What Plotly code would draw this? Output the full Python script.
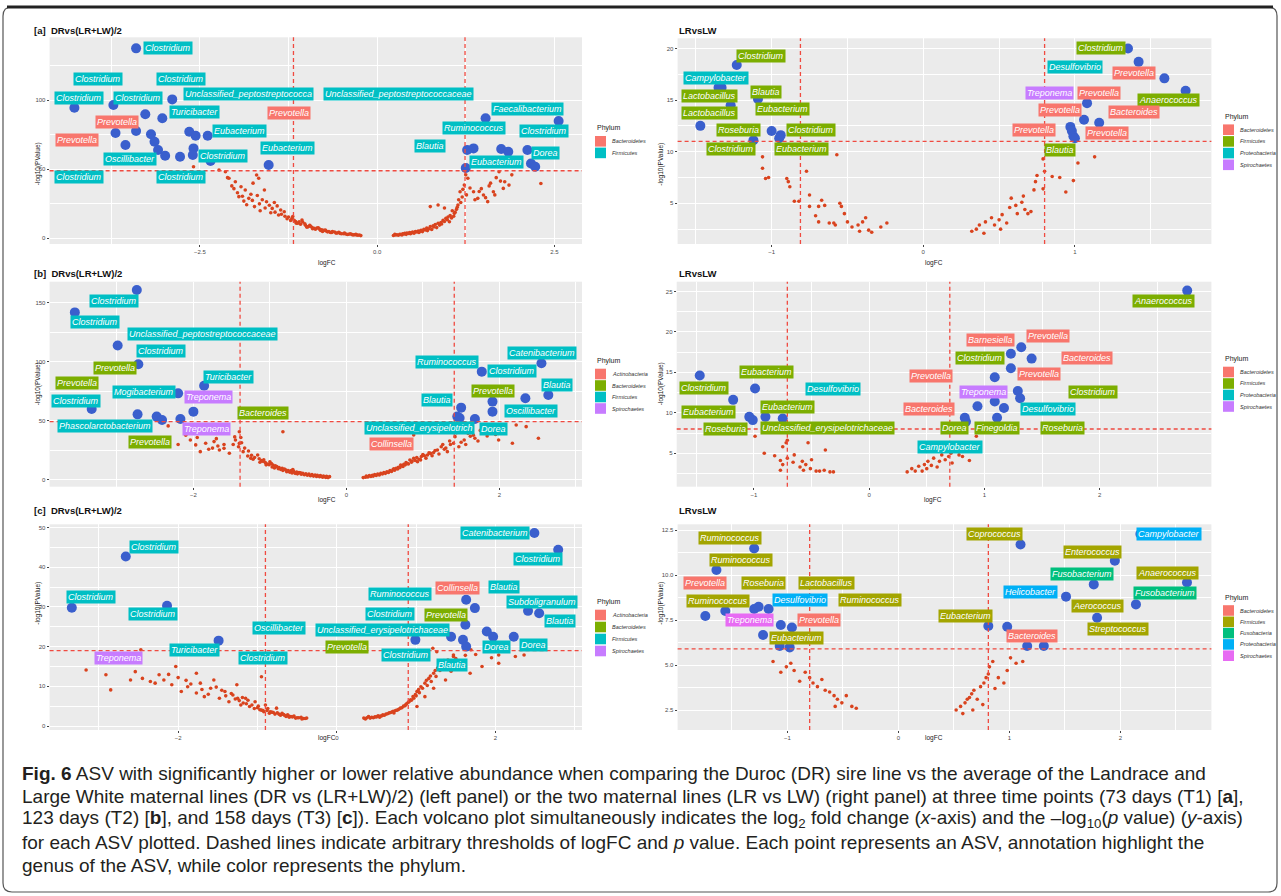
import plotly.graph_objects as go

W, H = 1281, 896
FONT = "Liberation Sans, Arial, sans-serif"
CAP_FONT = "Liberation Sans Narrow, Arial Narrow, Liberation Sans, sans-serif"

# ----------------------------------------------------------------- data ----
# [a] DR vs (LR+LW)/2  -- non significant ASVs
a_left_ns_x = [-2.59,-2.23,-2.14,-2.09,-2.00,-1.92,-1.86,-1.95,-1.81,-1.70,-1.67,-1.73,-1.59,-1.56,-1.48,-1.39,-1.31,-1.20,-1.14,-1.06,-0.97,-0.89,-0.81,-0.72,-0.64,-0.56,-0.47,-0.36,-0.25,
               -1.84,-2.05,-1.97,-1.78,-1.62,-1.52,-1.44,-1.35,-1.25,-1.17,-1.10,-1.02,-0.95,-0.92,-0.85,-0.78,-0.75,-0.68,-0.60,-0.52,-0.44,-0.40,-0.32,-0.29,-1.45,-1.65,-1.88,-1.75,-2.45,
               0.25,0.42,0.58,0.75,0.86,0.97,1.09,1.14,1.17,1.23,1.28,1.36,1.42,1.50,1.56,1.64,1.72,1.78,1.86,2.31,0.86,0.75,
               0.28,0.32,0.36,0.39,0.46,0.50,0.54,0.62,0.66,0.70,0.79,0.82,0.90,0.93,1.00,1.03,1.06,1.12,1.15,1.20,1.25,1.47,1.60,1.68,1.80,1.90,0.95]
a_left_ns_y = [51.9,49.5,48.3,43.5,41.0,37.4,35.0,30.2,29.0,45.9,43.5,23.0,35.0,26.5,21.7,16.9,19.3,14.5,10.9,13.3,8.5,7.2,6.8,5.3,4.3,3.9,3.4,2.9,2.4,
               24.3,38.0,33.0,32.0,28.0,24.0,19.0,17.5,15.5,13.0,12.0,10.5,9.5,8.0,7.5,6.2,5.8,5.0,4.6,3.6,3.2,3.0,2.6,2.5,26.0,20.0,27.0,40.0,47.0,
               2.9,3.9,5.3,8.5,10.9,14.5,18.1,24.2,33.8,38.6,43.5,33.8,29.0,31.4,26.6,33.8,48.3,36.2,38.6,39.8,24.2,23.0,
               2.6,3.0,3.3,3.6,4.2,4.5,5.0,5.8,6.5,7.5,9.0,10.0,11.5,13.0,15.5,16.5,20.0,21.0,28.0,30.0,46.0,36.0,40.0,44.0,41.0,46.0,22.0]
a_left_ns_more_x = [-1.30,-1.27,-1.22,-1.19,-1.15,-1.12,-1.08,-1.05,-1.01,-0.99,-0.94,-0.91,-0.87,-0.83,-0.80,-0.77,-0.73,-0.70,-0.66,-0.63,
                    -0.58,-0.54,-0.50,-0.46,-0.42,-0.38,-0.34,-0.30,-0.27,-0.23,-1.36,-1.41,-1.50,-1.58,-1.66,-1.69,-1.76,-1.90,-2.02,-2.11,
                    0.23,0.26,0.30,0.33,0.35,0.38,0.41,0.44,0.47,0.49,0.52,0.56,0.59,0.61,0.64,0.68,0.71,0.73,0.77,0.80,
                    0.84,0.88,0.91,0.95,0.99,1.02,1.05,1.08,1.10,1.13,1.18,1.21,1.26,1.31,1.38,1.44,1.53,1.58,1.66,1.74]
a_left_ns_more_y = [16.0,14.2,13.0,15.8,12.2,11.0,10.2,11.8,9.4,8.1,8.8,7.0,6.6,7.6,5.8,5.0,6.1,4.7,4.2,5.0,
                    3.8,4.4,3.3,3.9,2.8,3.3,2.5,2.9,2.2,2.0,20.5,23.5,18.5,22.0,25.0,31.0,27.5,30.5,36.0,44.0,
                    2.1,2.4,2.2,2.8,2.5,3.2,2.9,3.6,3.4,4.0,3.7,4.6,4.2,5.2,4.9,6.1,5.6,7.0,6.4,8.2,
                    7.8,9.6,10.4,12.2,13.5,12.0,14.8,16.0,19.0,22.5,26.0,35.5,31.5,36.5,28.0,34.0,29.5,38.0,31.5,41.5]
# significant ASVs
a_left_sig_x = [-3.40,-4.27,-3.72,-2.89,-3.27,-3.03,-3.69,-3.55,-3.40,-3.19,-3.14,-3.09,-2.99,-2.78,-2.65,-2.56,-2.39,-2.59,-2.60,-2.35,-1.53,
                1.53,2.56,1.27,1.36,1.75,1.85,2.12,2.17,2.23,1.25]
a_left_sig_y = [137.7,94.6,96.6,100.7,89.9,87.0,76.3,67.6,77.8,75.4,70.0,64.0,59.9,59.1,77.2,74.4,74.4,65.2,60.4,56.0,53.1,
                87.0,85.0,64.0,65.2,64.7,62.8,64.0,54.3,51.9,51.0]
a_left_lab_text = ["Clostridium","Clostridium","Clostridium","Clostridium","Clostridium","Unclassified_peptostreptococca",
                   "Unclassified_peptostreptococcaceae","Turicibacter","Prevotella","Prevotella","Faecalibacterium","Eubacterium",
                   "Ruminococcus","Clostridium","Prevotella","Blautia","Eubacterium","Clostridium","Dorea","Oscillibacter",
                   "Eubacterium","Clostridium","Clostridium"]
a_left_lab_phylum = ["Firmicutes"]*8 + ["Bacteroidetes","Bacteroidetes"] + ["Firmicutes"]*4 + ["Bacteroidetes"] + ["Firmicutes"]*8
a_left_lab_x = [-2.95,-3.94,-2.76,-4.21,-3.37,-1.81,0.30,-2.58,-3.67,-1.25,2.12,-1.94,1.37,2.36,-4.23,0.75,-1.26,-2.17,2.37,-3.48,1.69,-4.21,-2.76]
a_left_lab_y = [137.9,115.4,115.4,101.7,101.9,104.5,104.5,91.5,84.3,90.8,93.7,77.8,80.0,77.8,71.2,66.9,65.4,59.9,62.0,57.2,55.5,44.4,44.4]
a_left_phyla = ["Bacteroidetes","Firmicutes"]

# [a] LR vs LW
a_right_ns_x = [-1.06,-1.06,-1.04,-1.02,-0.90,-0.89,-0.88,-0.85,-0.82,-0.77,-0.75,-0.75,-0.71,-0.69,-0.67,-0.65,-0.69,-0.62,-0.58,-0.55,-0.54,-0.52,-0.50,-0.47,-0.43,-0.42,-0.40,-0.38,-0.36,-0.34,-0.28,-0.24,-0.57,-0.59,
                0.32,0.35,0.37,0.40,0.41,0.45,0.47,0.50,0.51,0.52,0.55,0.57,0.58,0.61,0.62,0.65,0.66,0.67,0.69,0.71,0.73,0.74,0.75,0.79,0.79,0.80,0.85,0.90,0.94,0.99,1.02,1.13]
a_right_ns_y = [9.5,8.4,7.4,7.5,7.4,7.1,6.6,5.2,5.2,8.1,5.8,4.7,3.8,4.7,5.3,4.8,3.2,3.1,2.9,5.0,4.7,4.0,3.2,2.7,2.9,2.3,3.2,3.6,2.4,2.2,2.7,3.1,9.7,3.1,
                2.3,2.5,2.9,2.1,3.2,3.6,2.9,3.4,2.5,3.9,3.1,4.6,5.5,4.8,4.0,5.1,5.7,4.4,4.0,4.2,6.3,7.1,7.7,6.4,9.3,8.1,7.6,7.5,6.1,7.2,8.9,9.5]
a_right_sig_x = [-1.47,-1.23,-1.35,-1.33,-1.27,-1.09,-1.12,-1.00,-0.94,-0.95,1.35,1.42,1.59,1.73,1.08,1.06,1.16,0.97,0.98,0.99,1.00]
a_right_sig_y = [12.5,18.4,16.2,16.2,14.5,15.1,11.1,12.0,11.6,11.3,20.0,18.7,17.1,15.9,14.7,13.1,12.8,12.4,12.0,11.5,11.3]
a_right_lab_text = ["Clostridium","Campylobacter","Blautia","Lactobacillus","Eubacterium","Lactobacillus","Roseburia","Clostridium",
                    "Clostridium","Eubacterium","Clostridium","Desulfovibrio","Prevotella","Treponema","Prevotella","Anaerococcus",
                    "Prevotella","Bacteroides","Prevotella","Prevotella","Blautia"]
a_right_lab_phylum = ["Firmicutes","Proteobacteria"] + ["Firmicutes"]*9 + ["Proteobacteria","Bacteroidetes","Spirochaetes","Bacteroidetes",
                      "Firmicutes","Bacteroidetes","Bacteroidetes","Bacteroidetes","Bacteroidetes","Firmicutes"]
a_right_lab_x = [-1.07,-1.37,-1.04,-1.41,-0.93,-1.41,-1.22,-0.74,-1.27,-0.80,1.17,1.00,1.39,0.83,1.16,1.62,0.90,1.39,0.73,1.21,0.90]
a_right_lab_y = [19.29,17.16,15.81,15.39,14.13,13.72,12.10,12.10,10.23,10.23,20.01,18.23,17.59,15.65,15.71,15.0,14.04,13.81,12.10,11.78,10.16]
a_right_phyla = ["Bacteroidetes","Firmicutes","Proteobacteria","Spirochaetes"]

# [b] DR vs (LR+LW)/2
b_left_ns_x = [-2.04,-1.97,-1.91,-1.84,-1.73,-1.68,-1.66,-1.60,-1.53,-1.45,-1.41,-1.37,-1.35,-1.29,-1.22,-1.16,-1.11,-1.06,-1.00,-0.96,-0.91,-0.84,-0.79,-0.72,-0.65,-0.57,-0.49,-0.41,-0.34,-0.26,-0.83,-1.40,-2.33,
               -1.25,-1.13,-1.03,-0.93,-0.88,-0.81,-0.76,-0.69,-0.62,-0.60,-0.53,-0.45,-0.38,-0.30,-0.22,-0.70,-0.98,-1.08,-1.38,-1.48,-1.75,-2.10,
               0.26,0.34,0.41,0.49,0.57,0.65,0.71,0.78,0.83,0.88,0.93,0.98,1.06,1.14,1.19,1.24,1.32,1.40,1.42,1.47,1.54,1.59,1.64,1.68,1.84,1.90,1.99,2.07,2.17,2.22,2.35,2.51,0.88,
               0.30,0.37,0.45,0.53,0.61,0.68,0.75,0.80,0.86,0.95,1.02,1.10,1.28,1.36,1.50,1.62,0.62,0.73,1.75,2.00]
b_left_ns_y = [33.9,29.7,24.0,31.1,32.5,28.8,25.4,26.8,22.6,33.9,28.2,31.6,24.0,20.3,17.5,21.2,16.4,14.7,15.5,12.7,11.3,9.9,8.5,7.9,6.8,5.6,5.1,4.2,3.7,3.1,40.9,40.9,45.8,
               18.5,15.0,13.5,12.0,10.5,9.2,8.0,7.3,6.3,6.0,5.3,4.6,4.0,3.4,2.8,8.8,14.0,17.0,36.0,30.0,27.0,38.0,
               3.4,4.0,5.1,6.2,7.9,9.9,12.7,14.7,16.9,18.4,15.5,19.8,21.2,23.2,25.4,28.2,24.0,31.1,36.7,28.2,33.9,39.5,40.9,35.3,37.3,43.8,33.9,43.8,31.1,46.6,45.2,35.3,38.1,
               3.7,4.5,5.6,7.0,8.8,10.8,13.2,14.0,16.0,17.5,20.5,22.5,26.0,30.0,32.0,37.0,9.5,12.0,42.0,44.5]
b_left_ns_more_x = [-1.46,-1.40,-1.33,-1.28,-1.24,-1.20,-1.14,-1.09,-1.05,-1.01,-0.97,-0.94,-0.89,-0.86,-0.83,-0.78,-0.74,-0.71,-0.67,-0.64,
                    -0.59,-0.55,-0.51,-0.47,-0.43,-0.39,-0.35,-0.31,-0.27,-0.24,-1.60,-1.70,-1.80,-2.20,-1.95,
                    0.22,0.25,0.28,0.32,0.35,0.39,0.43,0.47,0.51,0.55,0.59,0.63,0.67,0.70,0.74,0.77,0.81,0.85,0.90,0.92,
                    0.97,1.00,1.04,1.08,1.12,1.16,1.21,1.26,1.30,1.35,1.44,1.56,1.66,1.72,1.95]
b_left_ns_more_y = [36.5,31.0,27.0,24.5,21.0,19.0,18.0,15.8,12.8,13.0,11.0,10.2,9.5,9.0,8.0,7.0,6.5,6.0,5.6,5.2,
                    4.8,4.4,4.0,3.6,3.3,3.0,2.7,2.4,2.2,2.0,30.0,35.0,26.0,30.0,36.0,
                    2.0,2.3,2.6,3.0,3.3,3.8,4.3,5.0,5.6,6.4,7.2,8.2,9.4,10.5,11.5,12.8,13.5,15.0,16.5,19.0,
                    17.0,21.5,18.5,23.0,20.5,25.0,22.0,30.0,27.0,33.0,40.0,30.0,38.0,33.0,38.5]
b_left_sig_x = [-2.74,-3.55,-2.99,-2.72,-2.20,-1.86,-2.00,-3.33,-2.73,-2.48,-2.41,-2.17,1.50,1.45,1.48,1.68,1.77,1.91,1.91,2.34,2.55,2.64]
b_left_sig_y = [161,142,114,98,73.4,79.9,57.9,60.2,55.6,53.7,50.8,51.7,61.3,53.7,52.5,51.7,91.8,66.4,57.9,69.2,98.9,72]
b_left_lab_text = ["Clostridium","Clostridium","Unclassified_peptostreptococcaceae","Clostridium","Prevotella","Prevotella","Turicibacter",
                   "Mogibacterium","Treponema","Clostridium","Bacteroides","Phascolarctobacterium","Treponema","Prevotella",
                   "Ruminococcus","Catenibacterium","Clostridium","Prevotella","Blautia","Blautia","Oscillibacter",
                   "Unclassified_erysipelotrich","Dorea","Collinsella"]
b_left_lab_phylum = ["Firmicutes","Firmicutes","Firmicutes","Firmicutes","Bacteroidetes","Bacteroidetes","Firmicutes","Firmicutes",
                     "Spirochaetes","Firmicutes","Bacteroidetes","Firmicutes","Spirochaetes","Bacteroidetes","Firmicutes","Firmicutes",
                     "Firmicutes","Bacteroidetes","Firmicutes","Firmicutes","Firmicutes","Firmicutes","Firmicutes","Actinobacteria"]
b_left_lab_x = [-3.04,-3.29,-1.88,-2.43,-3.03,-3.52,-1.54,-2.65,-1.80,-3.54,-1.09,-3.16,-1.83,-2.57,1.32,2.56,2.17,1.91,2.75,1.19,2.41,0.95,1.92,0.59]
b_left_lab_y = [151.7,134.2,123.7,109.3,95.2,82.5,87.5,74.3,70.6,66.9,56.5,46.0,43.2,31.9,99.7,107.4,92.4,75.4,80.5,67.5,58.5,44.3,43.2,30.3]
b_left_phyla = ["Actinobacteria","Bacteroidetes","Firmicutes","Spirochaetes"]

# [b] LR vs LW
b_right_ns_x = [-0.99,-0.91,-0.82,-0.77,-0.75,-0.75,-0.72,-0.71,-0.71,-0.66,-0.65,-0.60,-0.58,-0.57,-0.55,-0.53,-0.51,-0.50,-0.46,-0.43,-0.39,-0.38,-0.34,-0.31,-0.77,
                0.33,0.37,0.40,0.43,0.46,0.48,0.50,0.51,0.54,0.56,0.59,0.61,0.63,0.66,0.69,0.71,0.72,0.75,0.78,0.87,0.93,0.81]
b_right_ns_y = [7.1,5.0,4.7,4.1,3.6,5.8,6.3,4.4,6.6,3.9,4.8,3.3,4.0,2.9,3.6,6.3,3.1,4.2,2.8,2.8,2.9,5.4,2.7,2.7,2.9,
                2.7,3.1,2.8,3.4,2.8,3.6,3.1,4.0,3.5,4.4,3.3,4.0,4.8,4.2,4.6,5.0,3.8,5.4,4.8,4.1,7.1,4.6]
b_right_sig_x = [2.76,-1.47,-0.99,-1.18,-1.04,-1.01,-0.90,-0.75,1.32,1.23,1.41,1.23,1.09,1.29,1.31,1.09,0.94,1.17,1.11,0.83,0.84]
b_right_sig_y = [25.1,14.6,13.0,11.6,9.5,9.1,9.5,9.3,18.1,17.3,16.7,15.5,14.4,12.7,11.8,11.4,10.8,10.6,9.4,9.4,8.9]
b_right_lab_text = ["Anaerococcus","Barnesiella","Prevotella","Clostridium","Bacteroides","Prevotella","Prevotella","Eubacterium",
                    "Clostridium","Desulfovibrio","Treponema","Clostridium","Eubacterium","Eubacterium","Bacteroides","Desulfovibrio",
                    "Roseburia","Unclassified_erysipelotrichaceae","Dorea","Finegoldia","Roseburia","Campylobacter"]
b_right_lab_phylum = ["Firmicutes","Bacteroidetes","Bacteroidetes","Firmicutes","Bacteroidetes","Bacteroidetes","Bacteroidetes",
                      "Firmicutes","Firmicutes","Proteobacteria","Spirochaetes","Firmicutes","Firmicutes","Firmicutes","Bacteroidetes",
                      "Proteobacteria","Firmicutes","Firmicutes","Firmicutes","Firmicutes","Firmicutes","Proteobacteria"]
b_right_lab_x = [2.55,1.05,1.55,0.96,1.89,0.54,1.47,-0.89,-1.43,-0.31,0.99,1.94,-1.39,-0.71,0.52,1.55,-1.25,-0.36,0.74,1.11,1.68,0.70]
b_right_lab_y = [23.76,19.02,19.43,16.83,16.83,14.60,14.78,15.02,13.04,12.96,12.55,12.55,10.15,10.77,10.48,10.48,8.01,8.17,8.09,8.09,8.17,5.82]
b_right_phyla = ["Bacteroidetes","Firmicutes","Proteobacteria","Spirochaetes"]

# [c] DR vs (LR+LW)/2
c_left_ns_x = [-3.16,-2.91,-2.85,-2.60,-2.54,-2.29,-2.24,-2.18,-2.08,-2.03,-1.96,-1.88,-1.77,-1.72,-1.67,-1.59,-1.55,-1.48,-1.41,-1.36,-1.31,-1.26,-1.21,-1.15,-1.10,-1.03,-0.97,-0.90,-0.84,-0.76,-0.69,-0.62,-0.54,-0.45,-0.38,-1.77,-0.95,
               -1.00,-0.93,-0.87,-0.80,-0.73,-0.66,-0.58,-0.50,-0.42,-1.12,-1.25,-1.45,-1.62,-2.12,-2.45,-1.90,-1.18,-0.70,-0.61,-2.47,
               0.34,0.44,0.55,0.62,0.70,0.78,0.86,0.91,0.96,1.01,1.06,1.11,1.16,1.22,1.27,1.32,1.40,1.47,1.11,1.01,1.22,1.37,1.68,1.83,2.04,2.25,
               0.38,0.48,0.52,0.58,0.66,0.74,0.82,0.88,0.94,0.99,1.04,1.14,1.19,1.25,1.30,1.44,1.55,1.62,0.72,0.40,1.21,1.26,1.47,1.69,2.04,2.36]
c_left_ns_y = [14.1,12.9,9.1,11.6,13.7,10.8,12.9,11.6,10.4,15.0,8.7,9.9,8.3,10.8,7.4,9.5,11.6,7.0,8.7,6.1,7.8,10.4,5.3,7.0,4.9,6.1,4.1,5.3,3.6,4.5,3.2,2.8,2.5,2.2,2.0,13.3,12.4,
               4.6,3.9,4.4,3.4,3.0,2.7,2.4,2.1,1.9,6.5,7.0,9.0,8.0,13.0,12.0,11.5,5.8,2.9,2.6,19.2,
               2.0,2.2,2.5,3.0,3.6,4.2,5.1,6.1,7.4,8.7,9.9,10.8,12.0,13.3,14.6,15.8,16.6,17.5,7.4,4.9,9.5,11.6,13.3,15.0,15.8,17.5,
               2.1,2.3,2.6,2.8,3.3,3.9,4.6,5.6,6.5,7.9,8.4,10.2,11.2,12.5,14.0,13.8,16.0,17.8,3.3,2.4,19.6,18.7,17.9,19.2,17.9,17.9]
c_left_ns_more_x = [-1.40,-1.33,-1.28,-1.23,-1.19,-1.14,-1.07,-1.04,-0.99,-0.95,-0.92,-0.88,-0.85,-0.82,-0.78,-0.75,-0.71,-0.67,-0.64,-0.60,
                    -0.56,-0.52,-0.48,-0.44,-0.40,-1.52,-1.70,-1.84,-2.00,-2.35,
                    0.36,0.42,0.46,0.50,0.54,0.57,0.60,0.64,0.68,0.71,0.76,0.80,0.84,0.87,0.90,0.93,0.97,1.00,1.03,1.08,
                    1.13,1.18,1.24,1.29,1.35,1.42,1.50,1.58,1.75,1.95]
c_left_ns_more_y = [7.6,8.2,6.8,6.4,7.2,5.6,5.3,4.4,5.0,4.0,3.6,3.9,3.2,3.5,3.0,3.3,2.7,2.9,2.4,2.2,
                    2.3,2.0,2.1,1.8,1.9,9.8,9.2,10.6,12.2,11.2,
                    1.8,2.0,2.1,2.3,2.2,2.6,2.7,3.1,3.4,3.7,4.0,4.5,5.0,5.4,6.0,6.6,7.0,7.6,9.2,9.5,
                    11.5,12.6,14.0,14.8,16.5,15.2,17.0,16.2,18.0,17.2]
c_left_sig_x = [2.49,2.79,-2.66,-3.34,-2.14,1.63,1.74,2.41,2.55,1.62,-1.49,0.99,1.44,1.59,1.63,1.89,1.97,2.23]
c_left_sig_y = [48.6,44.4,42.7,29.8,30.3,31.8,29.7,29.0,28.4,25.5,21.5,21.7,22.5,21.7,20.0,23.8,22.5,22.5]
c_left_lab_text = ["Catenibacterium","Clostridium","Clostridium","Clostridium","Clostridium","Ruminococcus","Collinsella","Blautia",
                   "Subdoligranulum","Clostridium","Prevotella","Blautia","Oscillibacter","Unclassified_erysipelotrichaceae",
                   "Turicibacter","Prevotella","Dorea","Dorea","Clostridium","Treponema","Clostridium","Blautia"]
c_left_lab_phylum = ["Firmicutes"]*6 + ["Actinobacteria","Firmicutes","Firmicutes","Firmicutes","Bacteroidetes","Firmicutes","Firmicutes",
                     "Firmicutes","Firmicutes","Bacteroidetes","Firmicutes","Firmicutes","Firmicutes","Spirochaetes","Firmicutes","Firmicutes"]
c_left_lab_x = [1.99,2.54,-2.31,-3.10,-2.32,0.80,1.52,2.11,2.58,0.67,1.37,2.81,-0.73,0.58,-1.80,0.13,2.01,2.48,0.87,-2.75,-0.93,1.45]
c_left_lab_y = [48.6,42.1,45.2,32.6,28.2,33.3,34.7,35.1,31.3,28.2,28.0,26.5,24.6,24.2,19.2,19.8,19.8,20.4,17.9,17.1,17.1,15.4]
c_left_phyla = ["Actinobacteria","Bacteroidetes","Firmicutes","Spirochaetes"]

# [c] LR vs LW
c_right_ns_x = [-1.13,-1.01,-0.97,-0.94,-0.84,-0.80,-0.77,-0.73,-0.69,-0.66,-0.62,-0.58,-0.55,-0.51,-0.47,-0.42,-0.38,-0.57,-0.89,-1.06,
                0.52,0.56,0.60,0.62,0.64,0.66,0.68,0.71,0.74,0.76,0.77,0.79,0.81,0.82,0.85,0.87,0.90,0.95,0.98,1.01,1.06,1.12,0.67,0.58]
c_right_ns_y = [5.2,4.9,5.1,4.7,4.6,4.3,4.0,3.8,4.2,3.6,3.5,3.3,3.1,2.9,3.3,2.7,2.6,2.7,4.1,4.6,
                2.5,2.7,2.9,3.1,3.2,3.4,3.6,3.1,3.8,2.8,4.0,4.3,4.5,4.9,5.2,3.7,4.3,4.0,4.7,5.4,5.1,5.2,2.5,2.3]
c_right_sig_x = [2.18,-1.30,1.10,-1.64,1.95,1.76,2.60,1.51,2.14,-1.74,-1.56,-1.30,-1.26,-1.17,1.79,-1.06,-0.96,-1.22,0.81,0.98,-1.07,-0.98,1.16,1.31]
c_right_sig_y = [12.28,11.48,11.7,10.28,10.8,9.48,9.59,8.8,8.37,7.72,8.0,8.11,8.24,8.11,7.63,7.22,7.09,6.67,7.17,7.13,6.06,5.98,6.06,6.06]
c_right_lab_text = ["Ruminococcus","Coprococcus","Campylobacter","Ruminococcus","Enterococcus","Prevotella","Roseburia","Lactobacillus",
                    "Fusobacterium","Anaerococcus","Ruminococcus","Desulfovibrio","Ruminococcus","Helicobacter","Fusobacterium",
                    "Aerococcus","Treponema","Prevotella","Eubacterium","Streptococcus","Eubacterium","Bacteroides"]
c_right_lab_phylum = ["Firmicutes","Firmicutes","Proteobacteria","Firmicutes","Firmicutes","Bacteroidetes","Firmicutes","Firmicutes",
                      "Fusobacteria","Firmicutes","Firmicutes","Proteobacteria","Firmicutes","Proteobacteria","Fusobacteria",
                      "Firmicutes","Spirochaetes","Bacteroidetes","Firmicutes","Firmicutes","Firmicutes","Bacteroidetes"]
c_right_lab_x = [-1.52,0.87,2.44,-1.42,1.75,-1.74,-1.22,-0.65,1.65,2.42,-1.63,-0.89,-0.26,1.19,2.40,1.79,-1.34,-0.72,0.60,1.98,-0.92,1.20]
c_right_lab_y = [12.04,12.28,12.28,10.83,11.26,9.57,9.57,9.57,10.04,10.09,8.56,8.61,8.61,9.04,8.98,8.28,7.5,7.5,7.72,6.98,6.48,6.61]
c_right_phyla = ["Bacteroidetes","Firmicutes","Fusobacteria","Proteobacteria","Spirochaetes"]

# thresholds (logFC, -log10 p)
a_left_thr_x, a_left_thr_y = [-1.18, 1.24], 49.0
a_right_thr_x, a_right_thr_y = [-0.81, 0.80], 11.0
b_left_thr_x, b_left_thr_y = [-1.39, 1.41], 49.4
b_right_thr_x, b_right_thr_y = [-0.71, 0.70], 8.0
c_left_thr_x, c_left_thr_y = [-0.90, 0.90], 19.0
c_right_thr_x, c_right_thr_y = [-0.80, 0.81], 5.9

panel_titles = ["[a]  DRvs(LR+LW)/2", "LRvsLW", "[b]  DRvs(LR+LW)/2", "LRvsLW", "[c]  DRvs(LR+LW)/2", "LRvsLW"]

caption_lines = [
    "<b>Fig. 6</b> ASV with significantly higher or lower relative abundance when comparing the Duroc (DR) sire line vs the average of the Landrace and",
    "Large White maternal lines (DR vs (LR+LW)/2) (left panel) or the two maternal lines (LR vs LW) (right panel) at three time points (73 days (T1) [<b>a</b>],",
    "123 days (T2) [<b>b</b>], and 158 days (T3) [<b>c</b>]). Each volcano plot simultaneously indicates the log<sub>2</sub> fold change (<i>x</i>-axis) and the \u2013log<sub>10</sub>(<i>p</i> value) (<i>y</i>-axis)",
    "for each ASV plotted. Dashed lines indicate arbitrary thresholds of logFC and <i>p</i> value. Each point represents an ASV, annotation highlight the",
    "genus of the ASV, while color represents the phylum.",
]

# ---------------------------------------------------------------- style ----
HUE2 = ["#F8766D", "#00BFC4"]
HUE4 = ["#F8766D", "#7CAE00", "#00BFC4", "#C77CFF"]
HUE5 = ["#F8766D", "#A3A500", "#00BF7D", "#00B0F6", "#E76BF3"]
RED_PT = "#D9431E"
BLUE_PT = "#3A5FCD"
THR_COL = "#F04A40"

panels = [
    dict(box=(49.6, 37.3, 582.0, 244.0), xr=(-4.62, 2.89), yr=(-4.1, 145.7), xd=2.5, yd=50, x0=-2.5, y0=0, xf=".1f", yf="d",
         ns=(a_left_ns_x + a_left_ns_more_x, a_left_ns_y + a_left_ns_more_y), sig=(a_left_sig_x, a_left_sig_y),
         lab=(a_left_lab_text, a_left_lab_phylum, a_left_lab_x, a_left_lab_y), phyla=a_left_phyla, hue=HUE2,
         thr=(a_left_thr_x, a_left_thr_y), leg=(595, 128.3, 11.6), title_y=30, xt_y=257, side="L"),
    dict(box=(677.6, 38.3, 1211.4, 244.0), xr=(-1.62, 1.90), yr=(1.06, 20.98), xd=1, yd=5, x0=-1, y0=5, xf="d", yf="d",
         ns=(a_right_ns_x, a_right_ns_y), sig=(a_right_sig_x, a_right_sig_y),
         lab=(a_right_lab_text, a_right_lab_phylum, a_right_lab_x, a_right_lab_y), phyla=a_right_phyla, hue=HUE4,
         thr=(a_right_thr_x, a_right_thr_y), leg=(1223, 116.7, 11.7), title_y=30, xt_y=257, side="R"),
    dict(box=(49.6, 281.7, 582.0, 486.7), xr=(-3.88, 3.08), yr=(-5.7, 168.0), xd=2, yd=50, x0=-2, y0=0, xf="d", yf="d",
         ns=(b_left_ns_x + b_left_ns_more_x, b_left_ns_y + b_left_ns_more_y), sig=(b_left_sig_x, b_left_sig_y),
         lab=(b_left_lab_text, b_left_lab_phylum, b_left_lab_x, b_left_lab_y), phyla=b_left_phyla, hue=HUE4,
         thr=(b_left_thr_x, b_left_thr_y), leg=(595, 361, 11.5), title_y=273, xt_y=500, side="L"),
    dict(box=(676.7, 281.7, 1211.4, 486.7), xr=(-1.67, 2.97), yr=(0.87, 26.2), xd=1, yd=5, x0=-1, y0=5, xf="d", yf="d",
         ns=(b_right_ns_x, b_right_ns_y), sig=(b_right_sig_x, b_right_sig_y),
         lab=(b_right_lab_text, b_right_lab_phylum, b_right_lab_x, b_right_lab_y), phyla=b_right_phyla, hue=HUE4,
         thr=(b_right_thr_x, b_right_thr_y), leg=(1223, 359, 11.5), title_y=273, xt_y=500, side="R"),
    dict(box=(49.6, 524.3, 582.0, 730.0), xr=(-3.62, 3.09), yr=(-1.0, 50.8), xd=2, yd=10, x0=-2, y0=0, xf="d", yf="d",
         ns=(c_left_ns_x + c_left_ns_more_x, c_left_ns_y + c_left_ns_more_y), sig=(c_left_sig_x, c_left_sig_y),
         lab=(c_left_lab_text, c_left_lab_phylum, c_left_lab_x, c_left_lab_y), phyla=c_left_phyla, hue=HUE4,
         thr=(c_left_thr_x, c_left_thr_y), leg=(595, 602, 12.0), title_y=510, xt_y=744, side="L"),
    dict(box=(677.6, 524.3, 1211.4, 730.0), xr=(-1.99, 2.82), yr=(1.39, 12.82), xd=1, yd=2.5, x0=-1, y0=2.5, xf="d", yf=".1f",
         ns=(c_right_ns_x, c_right_ns_y), sig=(c_right_sig_x, c_right_sig_y),
         lab=(c_right_lab_text, c_right_lab_phylum, c_right_lab_x, c_right_lab_y), phyla=c_right_phyla, hue=HUE5,
         thr=(c_right_thr_x, c_right_thr_y), leg=(1223, 597.5, 11.3), title_y=510, xt_y=744, side="R"),
]

fig = go.Figure()
shapes, annos = [], []


def pxx(p):
    return p / W


def pxy(p):
    return 1 - p / H


for i, P in enumerate(panels, start=1):
    s = "" if i == 1 else str(i)
    xa, ya = "x" + s, "y" + s
    bx0, by0, bx1, by1 = P["box"]
    nx, ny = P["ns"]
    n = min(len(nx), len(ny))
    fig.add_trace(go.Scatter(x=nx[:n], y=ny[:n], mode="markers", xaxis=xa, yaxis=ya, showlegend=False,
                             hoverinfo="skip", marker=dict(size=3.6, color=RED_PT, line=dict(width=0))))
    sx, sy = P["sig"]
    fig.add_trace(go.Scatter(x=sx, y=sy, mode="markers", xaxis=xa, yaxis=ya, showlegend=False,
                             marker=dict(size=10, color=BLUE_PT, line=dict(width=0))))
    common = dict(showgrid=True, gridcolor="white", gridwidth=1.1, zeroline=False, showline=False,
                  ticks="outside", ticklen=2, tickwidth=0.8, tickcolor="#444", tickmode="linear",
                  tickfont=dict(size=6, color="#4D4D4D", family=FONT))
    fig.update_layout(**{
        "xaxis" + s: dict(domain=[pxx(bx0), pxx(bx1)], range=list(P["xr"]), anchor=ya, tick0=P["x0"], dtick=P["xd"],
                          tickformat=P["xf"], minor=dict(tick0=P["x0"], dtick=P["xd"] / 2, showgrid=True,
                                                         gridcolor="white", gridwidth=0.5, ticks=""), **common),
        "yaxis" + s: dict(domain=[pxy(by1), pxy(by0)], range=list(P["yr"]), anchor=xa, tick0=P["y0"], dtick=P["yd"],
                          tickformat=P["yf"], minor=dict(tick0=P["y0"], dtick=P["yd"] / 2, showgrid=True,
                                                         gridcolor="white", gridwidth=0.5, ticks=""), **common),
    })
    # thresholds
    tx, ty = P["thr"]
    for t in tx:
        shapes.append(dict(type="line", xref=xa, yref=ya + " domain", x0=t, x1=t, y0=0, y1=1,
                           line=dict(color=THR_COL, width=1.3, dash="4px,3px")))
    shapes.append(dict(type="line", xref=xa + " domain", yref=ya, x0=0, x1=1, y0=ty, y1=ty,
                       line=dict(color=THR_COL, width=1.3, dash="4px,3px")))
    # labels
    hue = dict(zip(P["phyla"], P["hue"]))
    lt, lp, lx, ly = P["lab"]
    for t, ph, x, y in zip(lt, lp, lx, ly):
        annos.append(dict(x=x, y=y, xref=xa, yref=ya, text="<i>" + t + "</i>", showarrow=False,
                          bgcolor=hue[ph], borderpad=1, font=dict(size=9, color="white", family=FONT)))
    # panel title
    tx_px = 32 if P["side"] == "L" else 677
    annos.append(dict(x=pxx(tx_px), y=pxy(P["title_y"]), xref="paper", yref="paper", xanchor="left", yanchor="middle",
                      text="<b>" + panel_titles[i - 1] + "</b>", showarrow=False,
                      font=dict(size=9.5, color="#111", family=FONT)))
    # axis titles
    annos.append(dict(x=pxx((bx0 + bx1) / 2), y=pxy(P["xt_y"]), xref="paper", yref="paper", text="logFC",
                      showarrow=False, font=dict(size=6.5, color="#222", family=FONT)))
    yt_px = 32 if P["side"] == "L" else 661
    annos.append(dict(x=pxx(yt_px), y=pxy((by0 + by1) / 2), xref="paper", yref="paper", text="-log10(PValue)",
                      textangle=-90, showarrow=False, font=dict(size=6.5, color="#222", family=FONT)))
    # legend
    lgx, lgy, step = P["leg"]
    annos.append(dict(x=pxx(lgx), y=pxy(lgy), xref="paper", yref="paper", xanchor="left", yanchor="middle",
                      text="Phylum", showarrow=False, font=dict(size=7, color="#222", family=FONT)))
    for k, (ph, col) in enumerate(zip(P["phyla"], P["hue"])):
        cy = lgy + 13 + k * step
        shapes.append(dict(type="rect", xref="paper", yref="paper", x0=pxx(lgx), x1=pxx(lgx + 11),
                           y0=pxy(cy - 5.3), y1=pxy(cy + 5.3), fillcolor=col, line=dict(width=0)))
        annos.append(dict(x=pxx(lgx + 15), y=pxy(cy), xref="paper", yref="paper", xanchor="left", yanchor="middle",
                          text="<i>" + ph + "</i>", showarrow=False, font=dict(size=5.5, color="#333", family=FONT)))

# caption
for k, line in enumerate(caption_lines):
    annos.append(dict(x=pxx(20), y=pxy(773 + 23 * k), xref="paper", yref="paper", xanchor="left", yanchor="middle",
                      text=line, showarrow=False, font=dict(size=19, color="#231F20", family=CAP_FONT)))

# frame
x0, y0, x1, y1, r = 3, 7, 1277, 892, 9
rx, ry = r / W, r / H
X0, X1, Y0, Y1 = pxx(x0), pxx(x1), pxy(y1), pxy(y0)
path = (f"M {X0+rx},{Y1} L {X1-rx},{Y1} Q {X1},{Y1} {X1},{Y1-ry} L {X1},{Y0+ry} Q {X1},{Y0} {X1-rx},{Y0} "
        f"L {X0+rx},{Y0} Q {X0},{Y0} {X0},{Y0+ry} L {X0},{Y1-ry} Q {X0},{Y1} {X0+rx},{Y1} Z")
shapes.append(dict(type="path", xref="paper", yref="paper", path=path, line=dict(color="#555", width=1.2)))
shapes.append(dict(type="line", xref="paper", yref="paper", x0=pxx(x0 + 4), x1=pxx(x1 - 4), y0=pxy(y0), y1=pxy(y0),
                   line=dict(color="#222", width=3)))

fig.update_layout(width=W, height=H, margin=dict(l=0, r=0, t=0, b=0), paper_bgcolor="white",
                  plot_bgcolor="#EBEBEB", shapes=shapes, annotations=annos, showlegend=False,
                  font=dict(family=FONT))

fig.write_html("out.html", config={"displayModeBar": False},
               post_script="document.body.style.margin='0px';document.body.style.overflow='hidden';")
